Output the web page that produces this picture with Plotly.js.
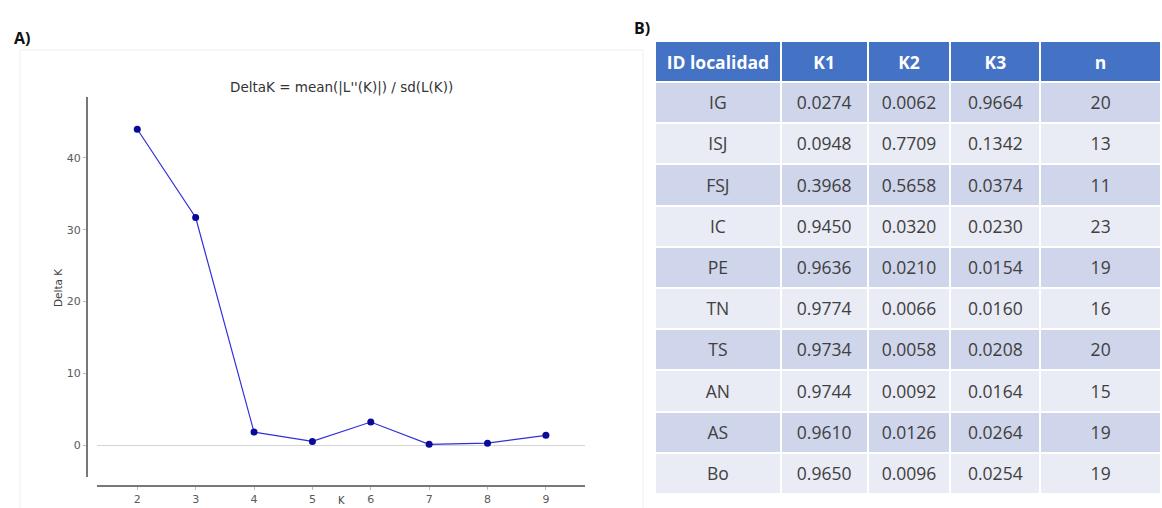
<!DOCTYPE html>
<html>
<head>
<meta charset="utf-8">
<script src="https://cdn.plot.ly/plotly-3.0.1.min.js"></script>
<style>html,body{margin:0;padding:0;background:#fff;}#chart{width:1162px;height:508px;}</style>
</head>
<body>
<div id="chart"></div>
<script>
// ---- Data ----
const kValues = [2, 3, 4, 5, 6, 7, 8, 9];
const deltaK = [44.0, 31.7, 1.8, 0.5, 3.2, 0.1, 0.25, 1.35];

const localidades = ["IG", "ISJ", "FSJ", "IC", "PE", "TN", "TS", "AN", "AS", "Bo"];
const k1 = [0.0274, 0.0948, 0.3968, 0.9450, 0.9636, 0.9774, 0.9734, 0.9744, 0.9610, 0.9650];
const k2 = [0.0062, 0.7709, 0.5658, 0.0320, 0.0210, 0.0066, 0.0058, 0.0092, 0.0126, 0.0096];
const k3 = [0.9664, 0.1342, 0.0374, 0.0230, 0.0154, 0.0160, 0.0208, 0.0164, 0.0264, 0.0254];
const nInd = [20, 13, 11, 23, 19, 16, 20, 15, 19, 19];
const headers = ["ID localidad", "K1", "K2", "K3", "n"];

const W = 1162, H = 508;
const px = x => x / W;
const py = y => 1 - y / H;

const fmt = a => a.map(v => v.toFixed(4));
const rowFill = localidades.map((_, i) => i % 2 === 0 ? "#CFD5EA" : "#E9EBF5");
const colWidths = [126, 87, 83, 90, 121];
const cellValues = [localidades, fmt(k1), fmt(k2), fmt(k3), nInd.map(String)];
const blank = cellValues.map(col => col.map(() => ""));

const lineTrace = {
  type: "scatter",
  mode: "lines+markers",
  x: kValues,
  y: deltaK,
  xaxis: "x",
  yaxis: "y",
  line: {color: "#3030d8", width: 1.2},
  marker: {color: "#0a0a9a", size: 7},
  hoverinfo: "x+y",
  showlegend: false
};

// table background (cells + white grid)
const tableBg = {
  type: "table",
  domain: {x: [px(655), 1], y: [py(495), py(41)]},
  columnwidth: colWidths,
  header: {
    values: headers.map(() => ""),
    fill: {color: "#4472C4"},
    line: {color: "#ffffff", width: 2},
    height: 41
  },
  cells: {
    values: blank,
    fill: {color: colWidths.map(() => rowFill)},
    line: {color: "#ffffff", width: 2},
    height: 41.2
  }
};

// table text, vertically centred in the cells
const tableText = {
  type: "table",
  domain: {x: [px(655), 1], y: [py(502), py(42)]},
  columnwidth: colWidths,
  header: {
    values: headers.map(h => "<b>" + h.replace(/ /g, "\u00a0") + "</b>"),
    fill: {color: "rgba(0,0,0,0)"},
    line: {color: "rgba(0,0,0,0)", width: 0},
    font: {family: "Open Sans, sans-serif", size: 17.5, color: "#ffffff"},
    align: "center",
    height: 46
  },
  cells: {
    values: cellValues,
    fill: {color: "rgba(0,0,0,0)"},
    line: {color: "rgba(0,0,0,0)", width: 0},
    font: {family: "Open Sans, sans-serif", size: 17.5, color: "#404040"},
    align: "center",
    height: 41.2
  }
};

const axisFont = {family: "DejaVu Sans, sans-serif", size: 11, color: "#5a5a5a"};

const layout = {
  width: W, height: H,
  margin: {l: 0, r: 0, t: 0, b: 0},
  paper_bgcolor: "#ffffff",
  plot_bgcolor: "rgba(0,0,0,0)",
  showlegend: false,
  xaxis: {
    domain: [px(97), px(585)],
    anchor: "free",
    position: py(486),
    range: [1.31, 9.67],
    tickvals: kValues,
    showgrid: false,
    zeroline: false,
    showline: true,
    linecolor: "#777",
    linewidth: 2,
    ticks: "outside",
    ticklen: 3,
    tickcolor: "#bbb",
    tickfont: axisFont
  },
  yaxis: {
    domain: [py(477), py(97)],
    anchor: "free",
    position: px(87),
    range: [-4.46, 48.5],
    tickvals: [0, 10, 20, 30, 40],
    showgrid: false,
    zeroline: true,
    zerolinecolor: "#d4d4d4",
    zerolinewidth: 1,
    showline: true,
    linecolor: "#777",
    linewidth: 2,
    ticks: "outside",
    ticklen: 3,
    tickcolor: "#bbb",
    tickfont: axisFont
  },
  shapes: [
    {type: "rect", xref: "paper", yref: "paper", x0: px(20), x1: px(643), y0: py(520), y1: py(50),
     line: {color: "#efefef", width: 1}, fillcolor: "rgba(0,0,0,0)", layer: "below"}
  ],
  annotations: [
    {text: "<b>A)</b>", xref: "paper", yref: "paper", x: px(12), y: py(38), xanchor: "left", yanchor: "middle",
     showarrow: false, font: {family: "Open Sans, sans-serif", size: 16, color: "#111"}},
    {text: "<b>B)</b>", xref: "paper", yref: "paper", x: px(632), y: py(28), xanchor: "left", yanchor: "middle",
     showarrow: false, font: {family: "Open Sans, sans-serif", size: 16, color: "#111"}},
    {text: "DeltaK = mean(|L''(K)|) / sd(L(K))", xref: "paper", yref: "paper", x: px(341), y: py(87),
     xanchor: "center", yanchor: "middle", showarrow: false,
     font: {family: "DejaVu Sans, sans-serif", size: 13.5, color: "#333"}},
    {text: "Delta K", xref: "paper", yref: "paper", x: px(58), y: py(288), textangle: -90,
     xanchor: "center", yanchor: "middle", showarrow: false,
     font: {family: "DejaVu Sans, sans-serif", size: 10.5, color: "#444"}},
    {text: "K", xref: "paper", yref: "paper", x: px(341), y: 0, xanchor: "center", yanchor: "bottom",
     showarrow: false, font: {family: "DejaVu Sans, sans-serif", size: 10, color: "#444"}}
  ]
};

Plotly.newPlot("chart", [lineTrace, tableBg, tableText], layout, {displayModeBar: false, staticPlot: true});
</script>
</body>
</html>
